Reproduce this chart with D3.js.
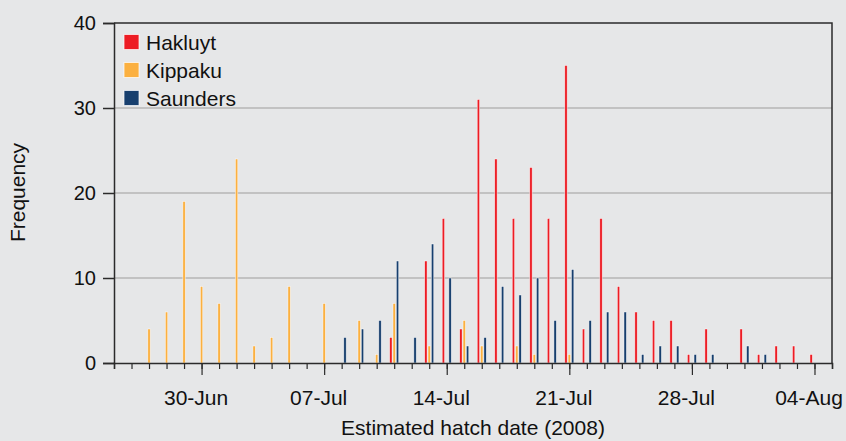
<!DOCTYPE html>
<html>
<head>
<meta charset="utf-8">
<script src="https://cdnjs.cloudflare.com/ajax/libs/d3/7.8.5/d3.min.js"></script>
<style>
  body { margin: 0; background: #e6e7e8; }
  svg { display: block; font-family: "Liberation Sans", Arial, sans-serif; }
</style>
</head>
<body>
<div id="chart"></div>
<script>
// hatch dates, 25-Jun to 04-Aug 2008 (one entry per day)
var startDate = "2008-06-25";
var hakluyt  = [0,0,0,0,0,0,0,0,0,0,0,0,0,0,0,0,3,0,12,17,4,31,24,17,23,17,35,4,17,9,6,5,5,1,4,0,4,1,2,2,1];
var kippaku  = [0,0,4,6,19,9,7,24,2,3,9,0,7,0,5,1,7,0,2,0,5,2,0,2,1,0,1,0,0,0,0,0,0,0,0,0,0,0,0,0,0];
var saunders = [0,0,0,0,0,0,0,0,0,0,0,0,0,3,4,5,12,3,14,10,2,3,9,8,10,5,11,5,6,6,1,2,2,1,1,0,2,1,0,0,0];
var seriesNames = ["Hakluyt", "Kippaku", "Saunders"];
var seriesColors = ["#ed1c24", "#fbb040", "#173f6e"];
var yTicks = [0, 10, 20, 30, 40];

var svgWidth = 846;
var svgHeight = 441;
var margin = { top: 23, right: 14, bottom: 78, left: 114 };
var width = svgWidth - margin.left - margin.right;
var height = svgHeight - margin.top - margin.bottom;

var svg = d3.select("#chart")
  .append("svg")
  .attr("width", svgWidth)
  .attr("height", svgHeight);

svg.append("rect")
  .attr("width", svgWidth)
  .attr("height", svgHeight)
  .attr("fill", "#e6e7e8");

var chartGroup = svg.append("g")
  .attr("transform", `translate(${margin.left}, ${margin.top})`);

var parseDay = d3.utcParse("%Y-%m-%d");
var day0 = parseDay(startDate);

var xScale = d3.scaleUtc()
  .domain([day0, d3.utcDay.offset(day0, 41)])
  .range([0, width]);

var yScale = d3.scaleLinear()
  .domain([0, 40])
  .range([height, 0]);

// three bars side by side around each day
var subScale = d3.scaleBand()
  .domain(seriesNames)
  .range([-5, 5]);

// gridlines
chartGroup.selectAll(".grid")
  .data(yTicks.filter(d => d > 0 && d < 40))
  .enter()
  .append("line")
  .attr("x1", 0)
  .attr("x2", width)
  .attr("y1", d => yScale(d))
  .attr("y2", d => yScale(d))
  .attr("stroke", "#b6b6b6")
  .attr("stroke-width", 1.5);

// frame top and right
chartGroup.append("path")
  .attr("d", `M0,0H${width}V${height}`)
  .attr("fill", "none")
  .attr("stroke", "#2b2b2b")
  .attr("stroke-width", 1.5);

// flatten data for bars
var rows = [];
[hakluyt, kippaku, saunders].forEach(function(values, i) {
  values.forEach(function(v, k) {
    if (v > 0) {
      rows.push({ series: seriesNames[i], color: seriesColors[i], date: d3.utcDay.offset(day0, k), value: v });
    }
  });
});

chartGroup.selectAll(".bar")
  .data(rows)
  .enter()
  .append("rect")
  .attr("class", "bar")
  .attr("x", d => xScale(d.date) + subScale(d.series) + subScale.bandwidth() / 2 - 1.2)
  .attr("y", d => yScale(d.value))
  .attr("width", 2.4)
  .attr("height", d => height - yScale(d.value))
  .attr("fill", d => d.color)
  .attr("stroke", "#ffffff")
  .attr("stroke-opacity", 0.75)
  .attr("stroke-width", 0.6);

// y axis
var leftAxis = d3.axisLeft(yScale)
  .tickValues(yTicks)
  .tickSize(11)
  .tickPadding(7);

var yAxis = chartGroup.append("g").call(leftAxis);
yAxis.select(".domain").attr("stroke", "#2b2b2b").attr("stroke-width", 1.5);
yAxis.selectAll(".tick line").attr("stroke", "#2b2b2b").attr("stroke-width", 1.5);
yAxis.selectAll("text")
  .attr("fill", "#111")
  .style("font-size", "20px");

// x axis: daily minor ticks, weekly major ticks with labels
var minorAxis = d3.axisBottom(xScale)
  .ticks(d3.utcDay.every(1))
  .tickSize(6)
  .tickFormat("");

var xMinor = chartGroup.append("g")
  .attr("transform", `translate(0, ${height})`)
  .call(minorAxis);
xMinor.select(".domain").attr("stroke", "#2b2b2b").attr("stroke-width", 1.5);
xMinor.selectAll(".tick line").attr("stroke", "#2b2b2b").attr("stroke-width", 1.2);

var majorAxis = d3.axisBottom(xScale)
  .ticks(d3.utcMonday.every(1))
  .tickSize(12)
  .tickFormat(d3.utcFormat("%d-%b"));

var xMajor = chartGroup.append("g")
  .attr("transform", `translate(0, ${height})`)
  .call(majorAxis);
xMajor.select(".domain").remove();
xMajor.selectAll(".tick line").attr("stroke", "#2b2b2b").attr("stroke-width", 1.2);
xMajor.selectAll("text")
  .attr("y", 42)
  .attr("dy", 0)
  .attr("dx", -6)
  .attr("fill", "#111")
  .style("font-size", "21px");

// legend
var legend = chartGroup.selectAll(".legend")
  .data(seriesNames)
  .enter()
  .append("g")
  .attr("transform", (d, i) => `translate(10, ${19 + i * 28})`);

legend.append("rect")
  .attr("x", 0)
  .attr("y", -7.5)
  .attr("width", 15)
  .attr("height", 15)
  .attr("fill", (d, i) => seriesColors[i])
  .attr("stroke", "#ffffff")
  .attr("stroke-opacity", 0.7)
  .attr("stroke-width", 1);

legend.append("text")
  .attr("x", 22)
  .attr("y", 7.5)
  .attr("fill", "#111")
  .style("font-size", "21px")
  .text(d => d);

// axis titles
svg.append("text")
  .attr("transform", "translate(25, 192.5) rotate(-90)")
  .style("text-anchor", "middle")
  .style("font-size", "21px")
  .attr("fill", "#111")
  .text("Frequency");

svg.append("text")
  .attr("x", 473)
  .attr("y", 435)
  .style("text-anchor", "middle")
  .style("font-size", "21px")
  .attr("fill", "#111")
  .text("Estimated hatch date (2008)");
</script>
</body>
</html>
